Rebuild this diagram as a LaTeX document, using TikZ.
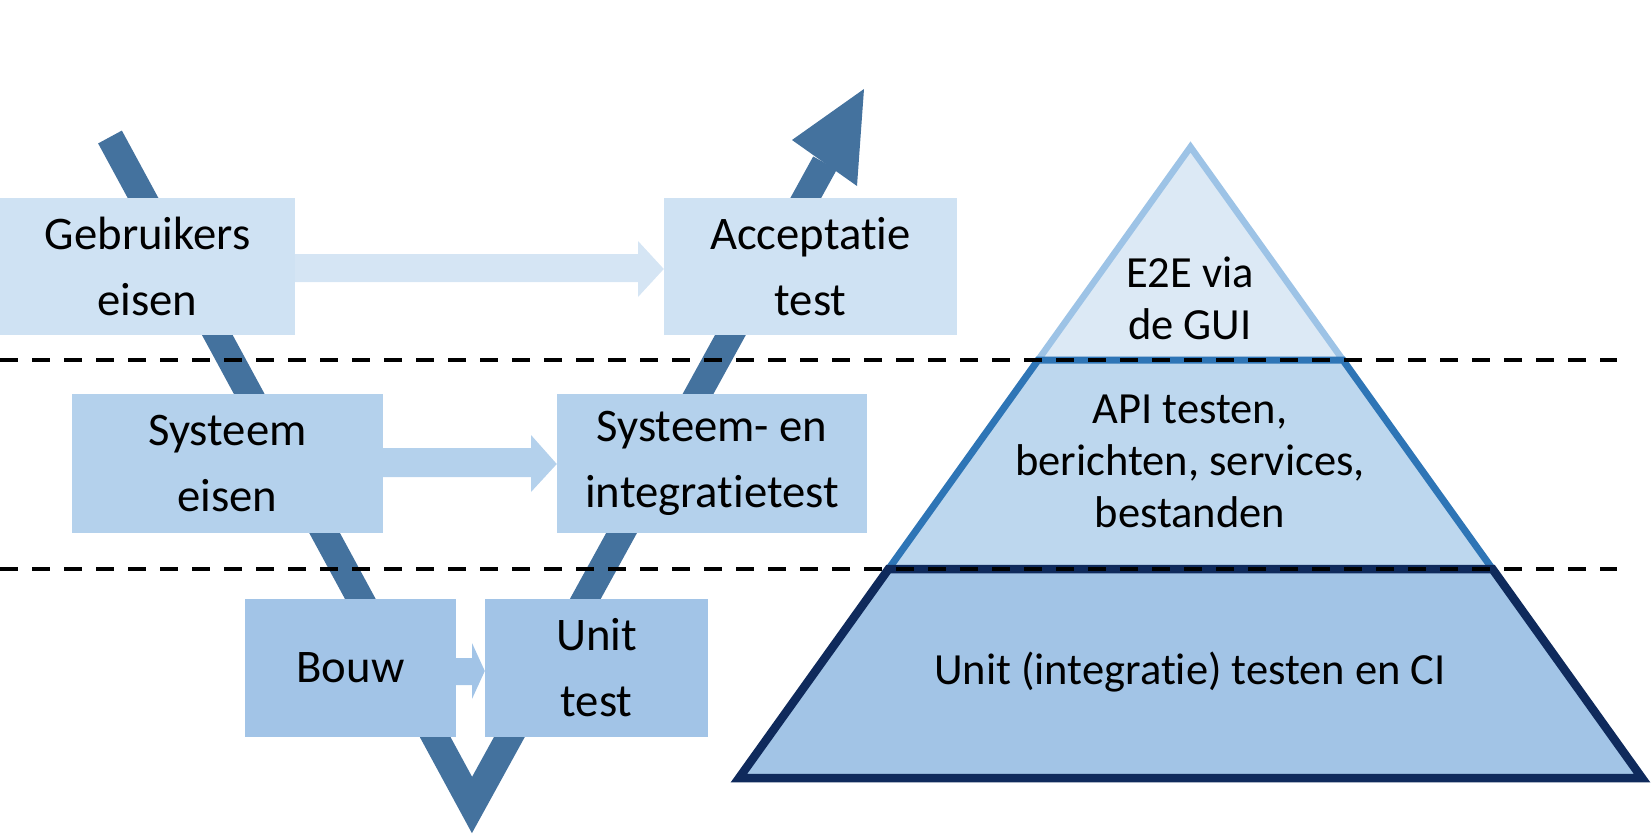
\documentclass[tikz,border=0pt]{standalone}
\usepackage{fontspec}
\setmainfont{Carlito}[Ligatures={NoCommon,NoContextual,NoRare}]
\usetikzlibrary{calc}
\newcommand{\nolig}{\kern0pt }
\definecolor{vblue}{HTML}{44729E}
\definecolor{rowA}{HTML}{CFE2F3}
\definecolor{rowAarr}{HTML}{D5E5F4}
\definecolor{rowB}{HTML}{B4D1EC}
\definecolor{rowC}{HTML}{A2C4E7}
\definecolor{pyrTopFill}{HTML}{DCE9F5}
\definecolor{pyrTopLine}{HTML}{9DC3E6}
\definecolor{pyrMidFill}{HTML}{BDD7EE}
\definecolor{pyrMidLine}{HTML}{2E75B6}
\definecolor{pyrBotFill}{HTML}{A2C4E6}
\definecolor{pyrBotLine}{HTML}{0F2A5C}
\tikzset{
  vbox/.style={rectangle, inner sep=0pt, align=center,
    font=\fontsize{46.7}{66}\selectfont},
  ptext/.style={inner sep=0pt, align=center,
    font=\fontsize{44.5}{52}\selectfont},
  sep/.style={black, line width=4.5pt, dash pattern=on 18pt off 14pt}
}
\begin{document}
\begin{tikzpicture}[x=1pt,y=-1pt]
\useasboundingbox (0,0) rectangle (1652,835);
% V shape
\draw[vblue, line width=27pt, line join=miter, line cap=butt]
  (110,137) -- (472,805) -- (825,163);
\fill[vblue] (792,140) -- (864,89) -- (857,186) -- cycle;
% boxes
\node[vbox, fill=rowA, minimum width=295pt, minimum height=137pt] (g) at (147.5,266.5) {Gebruikers\\eisen};
\node[vbox, fill=rowA, minimum width=293pt, minimum height=137pt] (a) at (810.5,266.5) {Acceptat\nolig ie\\test};
\node[vbox, fill=rowB, minimum width=311pt, minimum height=139pt] (s) at (227.5,463.5) {Systeem\\eisen};
\node[vbox, fill=rowB, minimum width=310pt, minimum height=139pt] (si) at (712,463.5) {Systeem- en\\integrat\nolig ietest};
\node[vbox, fill=rowC, minimum width=211pt, minimum height=138pt] (b) at (350.5,668) {Bouw};
\node[vbox, fill=rowC, minimum width=223pt, minimum height=138pt] (u) at (596.5,668) {Unit\\test};
% block arrows between boxes
\fill[rowAarr] (g.east |- 0,254) -- (638,254) -- (638,241) -- (a.west |- 0,269) -- (638,297) -- (638,282) -- (g.east |- 0,282) -- cycle;
\fill[rowB] (s.east |- 0,448) -- (531,448) -- (531,435) -- (si.west |- 0,464) -- (531,492) -- (531,477) -- (s.east |- 0,477) -- cycle;
\fill[rowC] (b.east |- 0,658) -- (472,658) -- (472,643) -- (u.west |- 0,671) -- (472,699) -- (472,685) -- (b.east |- 0,685) -- cycle;
% pyramid
\coordinate (A) at (1190.5,147);
\coordinate (BL) at (739,778);
\coordinate (BR) at (1642,778);
\coordinate (L1) at ($(A)!{213/631}!(BL)$);
\coordinate (R1) at ($(A)!{213/631}!(BR)$);
\coordinate (L2) at ($(A)!{422/631}!(BL)$);
\coordinate (R2) at ($(A)!{422/631}!(BR)$);
\filldraw[fill=pyrTopFill, draw=pyrTopLine, line width=6.5pt, line join=miter] (A) -- (R1) -- (L1) -- cycle;
\filldraw[fill=pyrMidFill, draw=pyrMidLine, line width=7pt, line join=miter] (L1) -- (R1) -- (R2) -- (L2) -- cycle;
\filldraw[fill=pyrBotFill, draw=pyrBotLine, line width=8.5pt, line join=miter] (L2) -- (R2) -- (BR) -- (BL) -- cycle;
\node[ptext] (p1) at (1190,298) {E2E via\\de GUI};
\node[ptext] (p2) at (1190,461) {API testen,\\berichten, services,\\bestanden};
\node[ptext] (p3) at (1190,672) {Unit (integrat\nolig ie) testen en CI};
% dashed separators
\draw[sep] (0,360) -- (1617,360);
\draw[sep] (0,569) -- (1617,569);
\end{tikzpicture}
\end{document}
